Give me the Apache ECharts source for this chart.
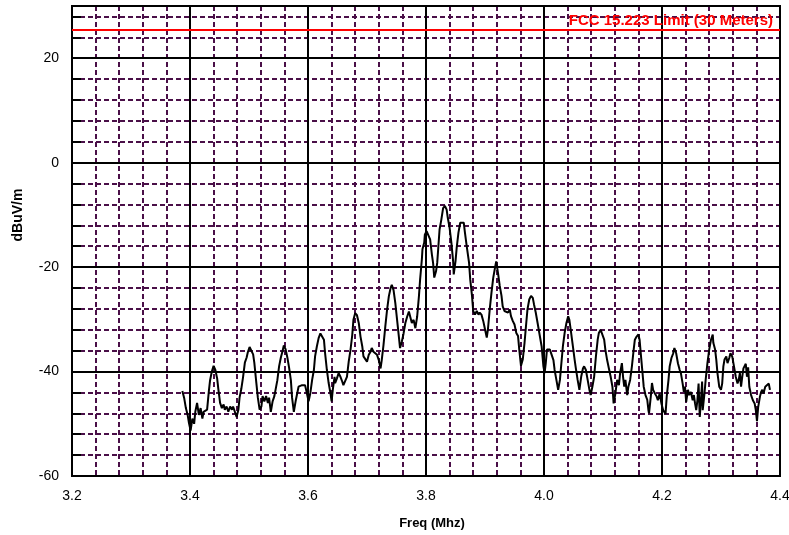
<!DOCTYPE html>
<html>
<head>
<meta charset="utf-8">
<script src="https://cdn.jsdelivr.net/npm/echarts@6/dist/echarts.min.js"></script>
<style>
  html, body { margin: 0; padding: 0; background: #fff; }
  #chart { width: 789px; height: 535px; }
</style>
</head>
<body>
<div id="chart"></div>
<script>
// Measured emission trace (MHz / dBuV/m)
const freqs = [
  3.387, 3.390, 3.393, 3.396, 3.398, 3.401, 3.404, 3.407, 3.409, 3.412, 3.415, 3.418, 3.421, 3.423, 3.429,
  3.432, 3.434, 3.437, 3.440, 3.443, 3.446, 3.448, 3.451, 3.454, 3.457, 3.459, 3.462, 3.465, 3.468, 3.471,
  3.473, 3.476, 3.479, 3.482, 3.484, 3.487, 3.490, 3.493, 3.496, 3.498, 3.501, 3.504, 3.507, 3.509, 3.512,
  3.515, 3.518, 3.521, 3.523, 3.526, 3.529, 3.532, 3.534, 3.537, 3.540, 3.543, 3.546, 3.548, 3.551, 3.554,
  3.557, 3.559, 3.562, 3.565, 3.568, 3.571, 3.573, 3.576, 3.579,
  3.584, 3.587, 3.590, 3.593, 3.595, 3.598, 3.601, 3.604, 3.607, 3.610, 3.612, 3.615, 3.618, 3.621, 3.624,
  3.627, 3.629, 3.632, 3.635, 3.638, 3.640, 3.642, 3.645, 3.646, 3.649, 3.652, 3.655, 3.658, 3.660, 3.663,
  3.666, 3.669, 3.672, 3.675, 3.677, 3.680, 3.683, 3.686, 3.689, 3.692, 3.694, 3.697, 3.700, 3.703, 3.706,
  3.708, 3.711, 3.714, 3.717, 3.720, 3.723, 3.725, 3.728, 3.731, 3.734, 3.737, 3.740, 3.742, 3.745, 3.748,
  3.751, 3.754, 3.756, 3.759, 3.762, 3.765, 3.768, 3.771, 3.773, 3.776, 3.779, 3.782, 3.785, 3.788, 3.790,
  3.793, 3.794, 3.797, 3.798, 3.801, 3.804, 3.807, 3.810, 3.812, 3.814, 3.817, 3.819, 3.821, 3.823, 3.826,
  3.829, 3.832, 3.835, 3.837, 3.840, 3.843, 3.846, 3.847, 3.850, 3.852, 3.855, 3.858, 3.861, 3.864, 3.866,
  3.869, 3.873, 3.875, 3.878, 3.880, 3.883, 3.886, 3.889, 3.891, 3.894, 3.897, 3.900, 3.903, 3.905, 3.908,
  3.911, 3.914, 3.917, 3.919, 3.922, 3.925, 3.928, 3.930, 3.933, 3.936, 3.939, 3.942, 3.944, 3.947, 3.950,
  3.953, 3.956, 3.958, 3.961, 3.964, 3.967, 3.970, 3.972, 3.975, 3.978, 3.981, 3.983, 3.986, 3.989,
  3.996, 3.999, 4.001, 4.003, 4.005, 4.007, 4.010, 4.013, 4.016, 4.018, 4.021, 4.024, 4.027, 4.029, 4.032,
  4.035, 4.038, 4.041, 4.043, 4.046, 4.049, 4.052, 4.054, 4.057, 4.060, 4.063, 4.066, 4.068, 4.071, 4.074,
  4.077, 4.079, 4.082, 4.085, 4.088, 4.091, 4.093, 4.096, 4.099, 4.102, 4.104, 4.107, 4.110, 4.113, 4.116,
  4.118, 4.121, 4.124, 4.127, 4.129, 4.132, 4.134, 4.136, 4.138, 4.141, 4.143, 4.146, 4.149, 4.152, 4.154,
  4.157, 4.160, 4.162, 4.164, 4.167, 4.169, 4.172, 4.175, 4.177, 4.178, 4.181, 4.183, 4.185, 4.188, 4.191,
  4.193, 4.196, 4.199, 4.202, 4.205, 4.206, 4.208, 4.211, 4.213, 4.216, 4.219, 4.221, 4.224, 4.227, 4.230,
  4.232, 4.235, 4.237, 4.239, 4.241, 4.244, 4.246, 4.249, 4.252, 4.254, 4.256, 4.258, 4.260, 4.262, 4.264,
  4.266, 4.268, 4.269, 4.272, 4.274, 4.277, 4.280, 4.283, 4.286, 4.287, 4.290, 4.292, 4.294, 4.297, 4.300,
  4.302, 4.304, 4.306, 4.309, 4.311, 4.314, 4.316, 4.319, 4.322, 4.325, 4.328, 4.330, 4.332, 4.334, 4.336,
  4.338, 4.340, 4.342, 4.344, 4.346, 4.348, 4.351, 4.354, 4.357, 4.359, 4.361, 4.363, 4.366, 4.368, 4.370,
  4.372, 4.375, 4.378, 4.381, 4.383
];
const levels = [
  -43.7, -45, -47, -48.3, -49.7, -51.3, -49, -50, -47.7, -46, -48.3, -47, -49, -47.7, -47.3,
  -43.7, -41.7, -40, -38.9, -39.7, -41.3, -43.3, -46, -47, -46.3, -47.3, -46.7, -47.7, -46.7, -47.3,
  -46.7, -47.7, -48.7, -47.3, -45, -43.3, -41, -38.3, -37.3, -36.3, -35.3, -35.3, -36.7, -38.3, -41.7,
  -45, -47.3, -46.7, -44.7, -45.7, -44.7, -46, -45, -47.7, -45.7, -44.7, -45, -41.7, -39, -37.3,
  -36, -35, -35.7, -37.3, -39.3, -41.7, -45, -47.7, -45.7,
  -42.9, -42.6, -42.6, -42.9, -42.6, -44.1, -45.7, -44.1, -41.6, -39.7, -37.1, -35.2, -33.6, -32.7, -32.7,
  -33.9, -36.5, -39.7, -42.2, -44.1, -45.7, -43.5, -41, -42.2, -41.3, -40.3, -41, -41.9, -42.6, -42.9,
  -41, -38.1, -35.9, -33, -30.1, -28.8, -29.2, -30.7, -33.3, -35.2, -37.1, -36.8, -38.1, -36.8, -36.2,
  -35.5, -36.2, -35.9, -36.8, -37.8, -39.4, -37.8, -34.9, -31.4, -28.2, -25.6, -24, -23.4, -24.4, -26.9,
  -30.1, -33.3, -35.5, -34.3, -32.7, -30.7, -29.5, -28.5, -28.8, -30.7, -30.1, -31.7, -29.5, -25.6, -22.4,
  -18.5, -16.6, -15.3, -13.8, -13.1, -13.4, -14.7, -17.6, -19.2, -22, -20.8, -19.2, -16, -12.8, -10.9,
  -8.7, -8.3, -9, -10.6, -12.5, -15.3, -18.9, -21.4, -18.9, -16.3, -13.4, -11.5, -11.2, -11.5, -13.4,
  -16, -19.2, -22.4, -25.5, -28.4, -29.1, -28.4, -29.1, -28.7, -29.1, -30.3, -31.9, -33.5, -31.9, -28.1,
  -24.9, -22, -20.1, -18.9, -21.1, -23.6, -25.5, -27.5, -28.4, -28.1, -28.7, -28.1, -29.4, -30.3, -31,
  -32.6, -33.2, -35.7, -38.9, -37.7, -34.5, -30.6, -28.1, -26.2, -25.5, -25.9, -27.1, -28.7, -30.6,
  -35.2, -39, -40.3, -38.4, -35.8, -35.5, -35.8, -36.8, -37.8, -39.7, -41.6, -43.5, -41.6, -39, -35.2,
  -32.6, -30.7, -29.4, -30.1, -32.6, -35.2, -37.8, -39.4, -41.6, -43.5, -41, -39.4, -39, -39.7, -41.6,
  -43.5, -44.5, -42.9, -41, -37.1, -33.9, -32.6, -32, -32.3, -33.9, -35.8, -37.8, -39.4, -41, -42.9,
  -46.1, -44.2, -41.6, -42.6, -40.3, -38.4, -41, -42.9, -41.6, -44.5, -42.9, -41.6, -39, -35.8, -33.9,
  -33.3, -32.9, -33.9, -36.5, -40.3, -42.9, -44.5, -45.4, -47.4, -48, -44.8, -42.2, -43.5, -44.2, -44.8,
  -45.5, -44.2, -46.1, -47.4, -47.7, -48.1, -44.8, -41.6, -39, -37.4, -36.5, -35.5, -36.5, -38.4, -39.7,
  -40.3, -42.3, -43.9, -42.9, -45.8, -43.5, -44.5, -43.9, -45.5, -44.5, -46.1, -47.4, -45.5, -42.3, -48.7,
  -45.5, -41.9, -47.4, -44.2, -41.6, -38.4, -35.8, -33.9, -32.9, -34.5, -35.8, -37.7, -40.3, -42.9, -43.5,
  -42.3, -39, -37.7, -37.1, -38.4, -37.4, -36.5, -37.1, -39, -41, -42.3, -41.6, -40.3, -42.9, -41,
  -39.4, -39.7, -38.5, -41, -39.2, -42.9, -44.5, -45.5, -46.1, -47.4, -49.5, -46.8, -44.8, -43.9, -43.5,
  -44.2, -42.9, -43.2, -42.3, -43.5
];

const limitValue = 25.5;
const limitLabel = "FCC 15.223 Limit (30 Meters)";
const xTitle = "Freq (Mhz)";
const yTitle = "dBuV/m";

const FONT = "Liberation Sans, Arial, Helvetica, sans-serif";
const MINOR = "#4a0f48";

const chart = echarts.init(document.getElementById("chart"), null, { renderer: "canvas" });

chart.setOption({
  animation: false,
  backgroundColor: "#fff",
  grid: {
    left: 72, right: 9, top: 6, bottom: 59,
    outerBoundsMode: "none",
    show: true, borderColor: "#000", borderWidth: 2, backgroundColor: "transparent"
  },
  xAxis: [
    {
      // minor dashed grid
      type: "value", min: 3.2, max: 4.4, interval: 0.04, position: "bottom", z: 1,
      axisLine: { show: false }, axisTick: { show: false }, axisLabel: { show: false },
      splitLine: { show: true, lineStyle: { color: MINOR, width: 2, type: [5, 3] } }
    },
    {
      type: "value", min: 3.2, max: 4.4, interval: 0.2, position: "bottom", z: 2,
      axisLine: { show: true, lineStyle: { color: "#000", width: 2 } },
      axisTick: { show: false },
      axisLabel: {
        color: "#000", fontSize: 14, fontFamily: FONT, margin: 13,
        formatter: v => v.toFixed(1)
      },
      splitLine: { show: true, lineStyle: { color: "#000", width: 2 } }
    }
  ],
  yAxis: [
    {
      type: "value", min: -60, max: 30, interval: 4, position: "left", z: 1,
      axisLine: { show: false },
      axisTick: { show: true, inside: true, length: 9, lineStyle: { color: "#000", width: 2 } },
      axisLabel: { show: false },
      splitLine: { show: true, lineStyle: { color: MINOR, width: 2, type: [5, 3] } }
    },
    {
      type: "value", min: -60, max: 30, interval: 20, position: "left", z: 2,
      axisLine: { show: true, lineStyle: { color: "#000", width: 2 } },
      axisTick: { show: false },
      axisLabel: {
        color: "#000", fontSize: 14, fontFamily: FONT, margin: 13, padding: [4, 0, 0, 0],
        formatter: v => (v % 20 === 0 ? String(v) : "")
      },
      splitLine: { show: true, lineStyle: { color: "#000", width: 2 } }
    }
  ],
  graphic: [
    {
      type: "text", x: 432, y: 523,
      style: {
        text: xTitle, fill: "#000", font: "bold 13px " + FONT,
        textAlign: "center", textVerticalAlign: "middle"
      }
    },
    {
      type: "text", x: 18, y: 215, rotation: Math.PI / 2,
      style: {
        text: yTitle, fill: "#000", font: "bold 14px " + FONT,
        textAlign: "center", textVerticalAlign: "middle"
      }
    }
  ],
  series: [
    {
      type: "line",
      xAxisIndex: 1, yAxisIndex: 1, z: 5,
      data: freqs.map((f, i) => [f, levels[i]]),
      showSymbol: false,
      lineStyle: { color: "#000", width: 2 },
      markLine: {
        silent: true,
        symbol: "none",
        lineStyle: { color: "#ff0000", width: 2, type: "solid" },
        label: {
          show: true, position: "insideEndTop", formatter: limitLabel, distance: [7, 1],
          color: "#ff0000", fontWeight: "bold", fontSize: 15, fontFamily: FONT
        },
        data: [{ yAxis: limitValue }]
      }
    }
  ]
});
</script>
</body>
</html>
